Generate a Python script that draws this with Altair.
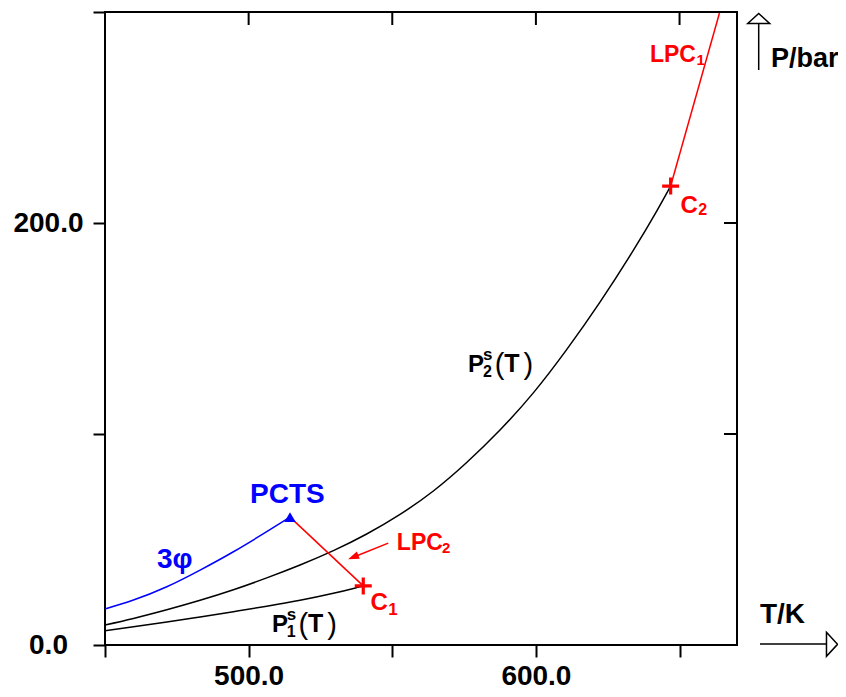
import altair as alt
import pandas as pd

# ---- curve data (T in K, P in bar) ----
p2_T = [450.0, 459.9, 471.5, 483.1, 494.7, 506.3, 517.9, 529.5, 541.1, 552.7,
        564.3, 575.9, 587.5, 599.1, 610.7, 622.3, 633.9, 642.0, 646.9]
p2_P = [9.5, 12.6, 16.7, 21.2, 26.2, 31.8, 37.9, 44.7, 52.6, 61.9,
        73.0, 86.5, 101.9, 119.5, 140.0, 162.5, 187.0, 205.5, 217.5]

p1_T = [450.0, 459.9, 471.5, 483.1, 494.7, 506.3, 517.9, 529.5, 537.6, 539.9]
p1_P = [6.8, 8.7, 10.9, 13.3, 15.8, 18.4, 21.2, 24.5, 27.2, 28.0]

three_T = [450.0, 459.9, 471.5, 483.1, 494.7, 506.3, 514.4]
three_P = [17.1, 21.3, 27.6, 35.5, 44.2, 53.7, 60.6]

lpc2_T = [514.4, 539.9]
lpc2_P = [60.6, 28.0]

lpc1_T = [646.9, 663.9]
lpc1_P = [217.5, 299.5]

pcts_T = [514.4]
pcts_P = [60.6]

crit_T = [539.9, 646.9]
crit_P = [28.0, 217.5]

pointer_T = [548.6, 536.4]
pointer_P = [48.3, 41.6]

x_ticks = [450, 500, 550, 600, 650]
y_ticks = [0, 100, 200, 300]
x_labelled = [500, 600]
y_labelled = [0, 200]

# ---- text labels: (text, T, P, size, colour, weight) ----
labels = [
    ("PCTS", 500.5, 67.3, 28, "#0000ff", "bold"),
    ("3\u03c6", 468.1, 36.5, 28, "#0000ff", "bold"),
    ("LPC", 551.6, 45.0, 23, "#ff0000", "bold"),
    ("2", 567.3, 43.4, 15, "#ff0000", "bold"),
    ("C", 542.4, 16.6, 24, "#ff0000", "bold"),
    ("1", 548.6, 14.2, 17, "#ff0000", "bold"),
    ("P", 508.1, 6.3, 24, "black", "bold"),
    ("s", 513.3, 11.8, 17, "black", "bold"),
    ("1", 513.3, 3.9, 16, "black", "bold"),
    ("(", 517.4, 5.0, 29, "black", "normal"),
    ("T", 520.7, 6.3, 25, "black", "bold"),
    (")", 527.4, 5.0, 29, "black", "normal"),
    ("P", 576.4, 129.5, 24, "black", "bold"),
    ("s", 581.6, 135.0, 17, "black", "bold"),
    ("2", 581.6, 127.1, 16, "black", "bold"),
    ("(", 585.7, 128.2, 29, "black", "normal"),
    ("T", 589.0, 129.5, 25, "black", "bold"),
    (")", 595.7, 128.2, 29, "black", "normal"),
    ("C", 650.3, 204.7, 24, "#ff0000", "bold"),
    ("2", 656.5, 203.6, 16, "#ff0000", "bold"),
    ("LPC", 639.7, 276.4, 23, "#ff0000", "bold"),
    ("1", 655.9, 274.9, 15, "#ff0000", "bold"),
    ("P/bar", 681.8, 274.1, 27, "black", "bold"),
    ("T/K", 678.0, 10.4, 28, "black", "bold"),
]

FONT = "Liberation Sans"

x_scale = alt.Scale(domain=[450, 670], nice=False, zero=False)
y_scale = alt.Scale(domain=[0, 300], nice=False, zero=False)

x_axis = alt.Axis(
    values=x_ticks, title=None, grid=False, domain=False, format=".1f",
    labelExpr="indexof(%s, datum.value) >= 0 ? datum.label : ''" % str(x_labelled),
    tickSize=12, tickWidth=2, tickColor="black", labelPadding=5,
    labelFont=FONT, labelFontWeight="bold", labelFontSize=28, labelColor="black",
)
y_axis = alt.Axis(
    values=y_ticks, title=None, grid=False, domain=False, format=".1f",
    labelExpr="indexof(%s, datum.value) >= 0 ? datum.label : ''" % str(y_labelled),
    tickSize=12, tickWidth=2, tickColor="black", labelPadding=45,
    labelAlign="center", labelBaseline="middle",
    labelFont=FONT, labelFontWeight="bold", labelFontSize=28, labelColor="black",
)

X = alt.X("T:Q", scale=x_scale, axis=x_axis)
Y = alt.Y("P:Q", scale=y_scale, axis=y_axis)


def curve(Ts, Ps, color, interp="natural"):
    df = pd.DataFrame({"T": Ts, "P": Ps})
    return alt.Chart(df).mark_line(color=color, strokeWidth=1.5, interpolate=interp).encode(x=X, y=Y)


layers = [
    curve(p2_T, p2_P, "black"),
    curve(p1_T, p1_P, "black"),
    curve(three_T, three_P, "#0000ff"),
    curve(lpc2_T, lpc2_P, "#ff0000", "linear"),
    curve(lpc1_T, lpc1_P, "#ff0000", "linear"),
    curve(pointer_T, pointer_P, "#ff0000", "linear"),
]

# arrow head of the LPC2 pointer
layers.append(
    alt.Chart(pd.DataFrame({"T": [pointer_T[-1]], "P": [pointer_P[-1]]}))
    .mark_point(shape="M1,0L-1,-0.7L-1,0.7Z", filled=True, color="#ff0000",
                size=121, angle=158, opacity=1)
    .encode(x=X, y=Y)
)

# PCTS triangle
layers.append(
    alt.Chart(pd.DataFrame({"T": pcts_T, "P": pcts_P}))
    .mark_point(shape="triangle-up", filled=True, color="#0000ff", size=130, opacity=1)
    .encode(x=X, y=Y)
)

# critical points (crosses)
layers.append(
    alt.Chart(pd.DataFrame({"T": crit_T, "P": crit_P}))
    .mark_point(shape="M-1,0L1,0M0,-1L0,1", filled=False, color="#ff0000",
                size=289, strokeWidth=3.2, opacity=1)
    .encode(x=X, y=Y)
)

# inward ticks on top and right
layers.append(
    alt.Chart(pd.DataFrame({"T": x_ticks}))
    .mark_rule(color="black", strokeWidth=2)
    .encode(x=X, y=alt.value(0), y2=alt.value(13))
)
layers.append(
    alt.Chart(pd.DataFrame({"P": y_ticks}))
    .mark_rule(color="black", strokeWidth=2)
    .encode(y=Y, x=alt.value(619), x2=alt.value(632))
)

# text labels
lab_df = pd.DataFrame(labels, columns=["text", "T", "P", "size", "color", "weight"])
for w in ["bold", "normal"]:
    layers.append(
        alt.Chart(lab_df[lab_df["weight"] == w])
        .mark_text(font=FONT, fontWeight=w, align="left", baseline="alphabetic")
        .encode(x=X, y=Y, text="text:N",
                size=alt.Size("size:Q", scale=None, legend=None),
                color=alt.Color("color:N", scale=None, legend=None))
    )

# axis-name arrows outside the frame
one = pd.DataFrame({"a": [0]})
layers.append(
    alt.Chart(one).mark_rule(color="black", strokeWidth=1.5)
    .encode(x=alt.value(655), x2=alt.value(722), y=alt.value(632))
)
layers.append(
    alt.Chart(one).mark_point(shape="M-0.46,-1L0.46,0L-0.46,1Z", filled=True, fill="white",
                              stroke="black", strokeWidth=1.5, size=576, opacity=1)
    .encode(x=alt.value(727), y=alt.value(632.3))
)
layers.append(
    alt.Chart(one).mark_rule(color="black", strokeWidth=1.5)
    .encode(x=alt.value(653.7), y=alt.value(12), y2=alt.value(58))
)
layers.append(
    alt.Chart(one).mark_point(shape="M-1,0.46L0,-0.46L1,0.46Z", filled=True, fill="white",
                              stroke="black", strokeWidth=1.5, size=484, opacity=1)
    .encode(x=alt.value(653.7), y=alt.value(6.5))
)

chart = (
    alt.layer(*layers)
    .properties(
        width=632, height=633,
        autosize=alt.AutoSizeParams(type="none"),
        padding={"left": 97, "top": 4, "right": 101, "bottom": 44},
        background="white",
    )
    .configure_view(stroke="black", strokeWidth=2)
)

chart.save("out.html", embed_options={"renderer": "svg", "actions": False})
